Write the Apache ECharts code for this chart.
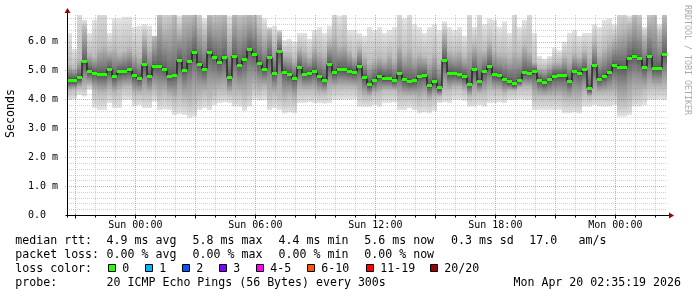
<!DOCTYPE html>
<html><head><meta charset="utf-8">
<script src="https://cdn.jsdelivr.net/npm/echarts@6/dist/echarts.min.js"></script>
<style>html,body{margin:0;padding:0;background:#fff;}#c{width:697px;height:297px;}</style>
</head><body><div id="c"></div>
<script>
// time in minutes relative to Sun 00:00
const startMin = -205;   // Sat 20:35
const endMin = 1595;     // Mon 02:35
const stepMin = 15;
const yMax = 6.92;

const medianRtt = [
 4.66,4.65,4.75,5.30,4.97,4.90,4.86,4.85,5.04,4.79,
 4.95,4.97,5.02,4.83,4.72,5.20,4.80,5.14,5.14,5.05,
 4.80,4.83,5.35,5.00,5.30,5.62,5.22,5.05,5.62,5.45,
 5.28,5.45,4.75,5.50,5.18,5.38,5.72,5.55,5.25,5.05,
 5.45,4.88,5.65,4.93,4.85,4.72,5.12,4.87,4.88,4.98,
 4.78,4.66,5.22,4.92,5.04,5.02,4.98,4.93,5.15,4.75,
 4.50,4.66,4.80,4.74,4.74,4.66,4.88,4.68,4.62,4.64,
 4.79,4.83,4.47,4.62,4.40,5.35,4.90,4.88,4.86,4.78,
 4.52,5.02,4.63,4.95,5.15,4.85,4.82,4.70,4.62,4.55,
 4.66,4.92,4.90,4.95,4.66,4.58,4.68,4.80,4.81,4.83,
 4.62,4.97,4.90,5.02,4.38,5.18,4.70,4.78,4.93,5.17,
 5.12,5.10,5.43,5.50,5.40,5.12,5.50,5.08,5.08,5.55];
const maxRtt = [
 6.3,5.75,7.4,6.75,6.3,6.75,7.4,7.4,6.3,6.8,
 6.8,6.86,6.86,6.5,6.55,6.6,6.55,6.2,7.4,7.4,
 7.4,7.4,6.9,7.4,7.4,7.4,7.4,6.8,7.4,7.4,
 7.4,7.4,6.9,7.4,7.4,7.4,7.4,7.4,7.4,6.8,
 6.5,6.55,6.4,6.05,6.1,6.0,6.3,6.3,6.1,6.4,
 6.5,6.3,6.55,7.4,6.9,7.4,6.4,6.4,6.3,6.2,
 6.5,6.4,6.5,6.3,6.4,6.5,7.4,6.8,7.4,6.6,
 6.5,6.3,6.5,6.6,6.4,6.7,6.5,6.4,6.5,6.2,
 7.4,6.5,7.4,6.6,6.8,6.75,6.5,6.7,6.3,7.4,
 6.5,6.75,7.4,6.3,5.5,5.4,5.5,5.8,5.7,6.0,
 6.3,6.4,6.2,6.3,6.3,6.6,6.5,6.75,6.8,6.6,
 7.4,7.4,6.9,7.4,7.4,6.5,7.4,7.4,6.6,7.4];
const highRtt = [
 5.2,5.1,5.4,6.5,5.6,5.5,5.8,5.9,5.7,5.8,
 5.6,5.7,5.8,5.6,5.5,6.2,5.8,6.4,6.9,6.5,
 6.6,6.9,6.4,6.9,6.9,7.0,6.6,6.3,7.0,6.8,
 6.9,7.0,6.2,7.0,6.8,6.9,7.0,6.9,6.5,6.2,
 6.4,5.9,6.3,5.6,5.6,5.4,5.8,5.7,5.5,5.8,
 5.7,5.6,6.0,6.2,5.9,6.0,5.7,5.5,5.8,5.5,
 5.3,5.4,5.5,5.4,5.6,5.4,5.9,5.6,5.8,5.5,
 5.6,5.5,5.4,5.6,5.3,6.3,5.7,5.6,5.7,5.5,
 5.8,5.9,5.8,5.7,6.0,5.7,5.6,5.6,5.5,5.7,
 5.6,5.9,5.7,5.3,5.1,5.1,5.2,5.3,5.3,5.5,
 5.4,5.6,5.5,5.7,5.5,6.0,5.6,5.8,6.0,6.1,
 6.4,6.5,6.6,6.9,6.7,6.2,6.8,6.9,6.3,6.9];
const lowRtt = [
 4.3,4.35,4.4,4.4,4.5,4.3,4.2,4.2,4.3,4.2,
 4.3,4.4,4.4,4.2,4.2,4.2,4.2,4.3,4.1,4.2,
 4.1,4.0,4.1,4.0,3.9,4.0,4.1,4.2,4.1,4.2,
 4.3,4.3,4.2,4.2,4.2,4.1,4.2,4.4,4.3,4.4,
 4.1,4.2,4.1,4.0,4.1,4.0,4.3,4.3,4.3,4.3,
 4.2,4.2,4.3,4.4,4.4,4.4,4.4,4.4,4.2,4.1,
 4.1,4.2,4.2,4.3,4.3,4.3,4.1,4.1,4.1,4.1,
 4.0,4.1,4.0,4.1,4.1,4.3,4.3,4.4,4.4,4.3,
 4.1,4.2,4.2,4.2,4.3,4.3,4.3,4.2,4.3,4.3,
 4.4,4.4,4.4,4.1,4.1,4.1,4.1,4.1,4.1,4.0,
 4.0,4.0,4.0,4.2,4.1,4.2,4.2,4.2,4.2,4.2,
 3.9,3.9,4.0,4.2,4.2,4.3,4.4,4.4,4.4,4.4];
const minRtt = [
 3.98,4.0,4.15,4.1,4.33,3.7,3.63,3.63,3.87,3.7,
 3.7,3.98,3.98,3.75,3.8,3.7,3.7,3.92,3.63,3.65,
 3.63,3.46,3.5,3.46,3.35,3.4,3.63,3.7,3.63,3.8,
 3.87,3.9,3.87,3.75,3.75,3.6,3.75,3.98,3.95,3.98,
 3.63,3.7,3.63,3.52,3.55,3.52,3.87,3.87,3.9,3.87,
 3.87,3.85,3.87,3.98,3.98,4.0,4.0,4.0,3.74,3.74,
 3.74,3.8,3.74,3.87,3.87,3.9,3.63,3.63,3.7,3.63,
 3.52,3.55,3.52,3.6,3.87,3.9,3.87,3.98,3.98,3.95,
 3.75,3.75,3.8,3.75,3.87,3.87,3.9,3.87,3.98,3.98,
 4.0,3.98,3.98,3.63,3.63,3.63,3.63,3.63,3.63,3.52,
 3.52,3.55,3.52,3.75,3.75,3.8,3.75,3.75,3.75,3.8,
 3.4,3.4,3.45,3.75,3.75,3.8,3.98,3.98,4.0,3.98];

const xTickTimes = [0, 360, 720, 1080, 1440];
const xTickLabels = ['Sun 00:00', 'Sun 06:00', 'Sun 12:00', 'Sun 18:00', 'Mon 00:00'];
const yTickValues = [0, 1, 2, 3, 4, 5, 6];
const yTickLabels = ['0.0  ', '1.0 m', '2.0 m', '3.0 m', '4.0 m', '5.0 m', '6.0 m'];

const medianStats = ['4.9 ms avg', '5.8 ms max', '4.4 ms min', '5.6 ms now', '0.3 ms sd', '17.0', 'am/s'];
const lossStats = ['0.00 % avg', '0.00 % max', '0.00 % min', '0.00 % now'];
const lossLabels = ['0', '1', '2', '3', '4-5', '6-10', '11-19', '20/20'];
const lossColors = ['#26ff00', '#00b8ff', '#0059ff', '#7e00ff', '#ff00ff', '#ff5500', '#ff0000', '#a10000'];
const probeText = '20 ICMP Echo Pings (56 Bytes) every 300s';
const dateText = 'Mon Apr 20 02:35:19 2026';

const MONO = 'DejaVu Sans Mono';
const smokeData = medianRtt.map((m, i) => [startMin + i * stepMin, minRtt[i], lowRtt[i], m, highRtt[i], maxRtt[i]]);
const lineData = medianRtt.map((m, i) => [startMin + i * stepMin, m]);
lineData.push([endMin, medianRtt[medianRtt.length - 1]]);

const gridData = [];
for (let t = -180; t < endMin; t += 60) gridData.push([0, t, t % 180 === 0 ? 1 : 0]);
for (let k = 1; k * 0.2 < yMax; k++) gridData.push([1, +(k * 0.2).toFixed(1), k % 5 === 0 ? 1 : 0]);

function renderSmoke(params, api) {
  const t0 = api.value(0), t1 = t0 + stepMin;
  const vMin = api.value(1), vLo = api.value(2), vMed = api.value(3), vHi = api.value(4), vMax = api.value(5);
  const x0 = Math.round(api.coord([t0, 0])[0]);
  const x1 = Math.round(api.coord([t1, 0])[0]);
  const yTop = api.coord([t0, vMax])[1];
  const yBot = api.coord([t0, vMin])[1];
  const h = yBot - yTop;
  const f = v => Math.min(1, Math.max(0, (api.coord([t0, v])[1] - yTop) / h));
  const fHi = f(vHi), fMed = f(vMed), fLo = f(vLo);
  const d = Math.min(0.1 / (vMax - vMin), (fMed - fHi) / 2, (fLo - fMed) / 2);
  const stops = [
    {offset: 0, color: '#e4e4e4'},
    {offset: fHi, color: '#bdbdbd'},
    {offset: (fHi + fMed - d) / 2, color: '#949494'},
    {offset: fMed - d, color: '#646464'},
    {offset: fMed, color: '#484848'},
    {offset: fMed + d, color: '#646464'},
    {offset: (fLo + fMed + d) / 2, color: '#949494'},
    {offset: fLo, color: '#bdbdbd'},
    {offset: 1, color: '#e4e4e4'}
  ];
  return {
    type: 'rect',
    shape: {x: x0, y: yTop, width: x1 - x0, height: h},
    style: {fill: new echarts.graphic.LinearGradient(0, 0, 0, 1, stops)}
  };
}

function renderGrid(params, api) {
  const cs = params.coordSys;
  const orient = api.value(0), v = api.value(1), major = api.value(2);
  const stroke = major ? 'rgba(235,40,40,0.45)' : 'rgba(140,140,140,0.4)';
  if (orient === 0) {
    const x = Math.round(api.coord([v, 0])[0]) + 0.5;
    return {type: 'line', shape: {x1: x, y1: cs.y, x2: x, y2: cs.y + cs.height},
      style: {stroke, lineWidth: 1, lineDash: [1, 1]}};
  }
  const y = Math.round(api.coord([startMin, v])[1]) + 0.5;
  return {type: 'line', shape: {x1: cs.x - (major ? 2 : 0), y1: y, x2: cs.x + cs.width, y2: y},
    style: {stroke, lineWidth: 1, lineDash: [1, 1]}};
}

function renderMedian(params, api) {
  const t0 = api.value(0), t1 = t0 + stepMin;
  const x0 = Math.round(api.coord([t0, 0])[0]);
  const x1 = Math.round(api.coord([t1, 0])[0]);
  const cy = api.coord([t0, api.value(1)])[1];
  return {type: 'rect', shape: {x: x0, y: Math.round(cy - 1.5), width: x1 - x0, height: 3},
    style: {fill: lossColors[0]}};
}

function renderAxes(params, api) {
  const o = api.coord([startMin, 0]);
  const r = api.coord([endMin, 0]);
  const t = api.coord([startMin, yMax]);
  const xa = Math.round(o[0]) + 0.5, ya = Math.round(o[1]) + 0.5;
  const xr = Math.round(r[0]), yt = Math.round(t[1]);
  const children = [
    {type: 'line', shape: {x1: xa, y1: ya + 2, x2: xa, y2: yt - 2}, style: {stroke: '#000', lineWidth: 1}},
    {type: 'line', shape: {x1: xa - 2, y1: ya, x2: xr + 2, y2: ya}, style: {stroke: '#000', lineWidth: 1}},
    {type: 'polygon', shape: {points: [[xa - 3, yt - 2], [xa + 3, yt - 2], [xa, yt - 7]]}, style: {fill: '#9a0000'}},
    {type: 'polygon', shape: {points: [[xr + 2, ya - 3], [xr + 2, ya + 3], [xr + 7, ya]]}, style: {fill: '#9a0000'}}
  ];
  for (let tt = -180; tt < endMin; tt += 180) {
    const x = Math.round(api.coord([tt, 0])[0]) + 0.5;
    children.push({type: 'line', shape: {x1: x, y1: ya - 1, x2: x, y2: ya + 3}, style: {stroke: '#000', lineWidth: 1}});
  }
  for (let tt = -120; tt < endMin; tt += 60) {
    if (tt % 180 === 0) continue;
    const x = Math.round(api.coord([tt, 0])[0]) + 0.5;
    children.push({type: 'line', shape: {x1: x, y1: ya, x2: x, y2: ya + 2}, style: {stroke: '#000', lineWidth: 1}});
  }
  return {type: 'group', children};
}

function renderXLabels(params, api) {
  const i = params.dataIndex;
  const p = api.coord([api.value(0), 0]);
  return {type: 'text', x: p[0], y: p[1] + 10,
    style: {text: xTickLabels[i], fontFamily: MONO, fontSize: 10, fill: '#000',
      textAlign: 'center', textVerticalAlign: 'middle'}};
}

const chart = echarts.init(document.getElementById('c'), null, {renderer: 'canvas', width: 697, height: 297});

const lf = 11.6;
const rowY = [241, 255, 268.5, 283];
const colX = [106.6, 192.6, 278.6, 364.3, 451, 529.3, 578.6];
const graphics = [];
function txt(x, y, s, extra) {
  graphics.push(Object.assign({type: 'text', x, y, silent: true,
    style: {text: s, fontFamily: MONO, fontSize: lf, fill: '#000', textAlign: 'left', textVerticalAlign: 'middle'}}, extra || {}));
}
txt(15.3, rowY[0], 'median rtt:');
medianStats.forEach((s, i) => txt(colX[i], rowY[0], s));
txt(15.3, rowY[1], 'packet loss:');
lossStats.forEach((s, i) => txt(colX[i], rowY[1], s));
txt(15.3, rowY[2], 'loss color:');
const boxX = [108, 145, 182, 219, 256, 307, 366, 430];
lossLabels.forEach((s, i) => {
  graphics.push({type: 'rect', silent: true, shape: {x: boxX[i] + 0.5, y: 264.5, width: 7, height: 7},
    style: {fill: lossColors[i], stroke: '#000', lineWidth: 1}});
  txt(boxX[i] + 14.3, rowY[2], s);
});
txt(15.3, rowY[3], 'probe:');
txt(106.6, rowY[3], probeText);
graphics.push({type: 'text', x: 681, y: rowY[3], silent: true,
  style: {text: dateText, fontFamily: MONO, fontSize: lf, fill: '#000', textAlign: 'right', textVerticalAlign: 'middle'}});
graphics.push({type: 'text', x: 11, y: 113.5, rotation: Math.PI / 2, silent: true,
  style: {text: 'Seconds', fontFamily: MONO, fontSize: lf, fill: '#000', textAlign: 'center', textVerticalAlign: 'middle'}});
graphics.push({type: 'text', x: 687.5, y: 5, rotation: -Math.PI / 2, silent: true,
  style: {text: 'RRDTOOL / TOBI OETIKER', fontFamily: MONO, fontSize: 8.3, fill: '#aaaaaa', textAlign: 'left', textVerticalAlign: 'middle'}});

chart.setOption({
  animation: false,
  backgroundColor: '#ffffff',
  grid: {left: 67, top: 15, width: 600, height: 200, outerBoundsMode: 'none', containLabel: false},
  xAxis: {type: 'value', min: startMin, max: endMin, show: false},
  yAxis: {type: 'value', min: 0, max: yMax, interval: 1,
    axisLine: {show: false}, axisTick: {show: false}, splitLine: {show: false},
    axisLabel: {show: true, showMaxLabel: false, margin: 9, align: 'right',
      fontFamily: MONO, fontSize: 10, color: '#000',
      formatter: v => { const i = yTickValues.indexOf(Math.round(v * 100) / 100); return i >= 0 ? yTickLabels[i] : ''; }}},
  series: [
    {type: 'custom', name: 'smoke', z: 1, clip: true, silent: true, renderItem: renderSmoke, data: smokeData},
    {type: 'custom', name: 'grid', z: 2, clip: false, silent: true, renderItem: renderGrid, data: gridData},
    {type: 'line', name: 'median', z: 3, step: 'end', symbol: 'none', silent: true,
      lineStyle: {color: '#000', width: 1}, data: lineData},
    {type: 'custom', name: 'medianLoss', z: 4, clip: true, silent: true, renderItem: renderMedian, data: lineData.slice(0, medianRtt.length)},
    {type: 'custom', name: 'axes', z: 5, clip: false, silent: true, renderItem: renderAxes, data: [[startMin, 0]]},
    {type: 'custom', name: 'xlabels', z: 5, clip: false, silent: true, renderItem: renderXLabels, data: xTickTimes.map(t => [t, 0])}
  ],
  graphic: graphics
});
</script></body></html>
